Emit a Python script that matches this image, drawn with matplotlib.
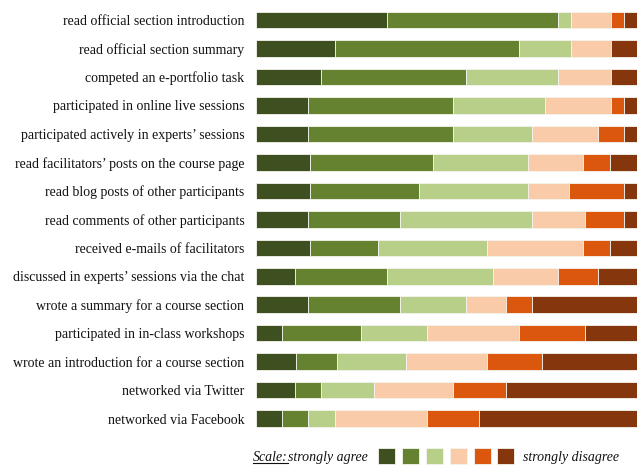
import numpy as np
import matplotlib.pyplot as plt
import matplotlib.patches as patches
from matplotlib.lines import Line2D

# activities, top to bottom
activities = [
    "read official section introduction",
    "read official section summary",
    "competed an e-portfolio task",
    "participated in online live sessions",
    "participated actively in experts\u2019 sessions",
    "read facilitators\u2019 posts on the course page",
    "read blog posts of other participants",
    "read comments of other participants",
    "received e-mails of facilitators",
    "discussed in experts\u2019 sessions via the chat",
    "wrote a summary for a course section",
    "participated in in-class workshops",
    "wrote an introduction for a course section",
    "networked via Twitter",
    "networked via Facebook",
]

# answer counts per scale step (strongly agree ... strongly disagree)
strongly_agree = [10, 6, 5, 4, 4, 4, 4, 4, 4, 3, 4, 2, 3, 3, 2]
agree = [13, 14, 11, 11, 11, 9, 8, 7, 5, 7, 7, 6, 3, 2, 2]
somewhat_agree = [1, 4, 7, 7, 6, 7, 8, 10, 8, 8, 5, 5, 5, 4, 2]
somewhat_disagree = [3, 3, 4, 5, 5, 4, 3, 4, 7, 5, 3, 7, 6, 6, 7]
disagree = [1, 0, 0, 1, 2, 2, 4, 3, 2, 3, 2, 5, 4, 4, 4]
strongly_disagree = [1, 2, 2, 1, 1, 2, 1, 1, 2, 3, 8, 4, 7, 10, 12]

colors = ['#3F5020', '#658230', '#B8CF8A', '#FACBA8', '#DC570E', '#86360C']

counts = np.array([strongly_agree, agree, somewhat_agree,
                   somewhat_disagree, disagree, strongly_disagree], dtype=float)
shares = counts / counts.sum(axis=0) * 100

plt.rcParams['font.family'] = 'Liberation Serif'

fig = plt.figure(figsize=(6.39, 4.68), dpi=100)
ax = fig.add_axes([0.400, 0.075, 0.5973, 0.9127])

y = np.arange(len(activities))
left = np.zeros(len(activities))
for i in range(len(colors)):
    ax.barh(y, shares[i], left=left, height=0.58, color=colors[i],
            edgecolor='#f4f4ee', linewidth=0.6)
    left += shares[i]

ax.set_xlim(0, 100)
ax.set_ylim(len(activities) - 0.5, -0.5)
ax.set_yticks(y)
ax.set_yticklabels(activities, fontsize=10, color='#111111')
ax.tick_params(axis='y', length=0, pad=8)
ax.set_xticks([])
for s in ax.spines.values():
    s.set_visible(False)

# scale legend along the bottom
ly = 1 - 457.5 / 468
t = fig.text(288 / 639, ly, "Scale:", fontsize=10, style='italic',
             va='center', ha='right', color='#111111')
fig.text(368 / 639, ly, "strongly agree", fontsize=10, style='italic',
         va='center', ha='right', color='#111111')
for i, c in enumerate(colors):
    x0 = (378.3 + i * 23.8) / 639
    fig.add_artist(patches.Rectangle((x0, 1 - 464 / 468), 17 / 639, 16 / 468,
                                     transform=fig.transFigure, facecolor=c,
                                     edgecolor='#f4f4ee', linewidth=0.6))
fig.text(523 / 639, ly, "strongly disagree", fontsize=10, style='italic',
         va='center', ha='left', color='#111111')

fig.canvas.draw()
bb = t.get_window_extent().transformed(fig.transFigure.inverted())
fig.add_artist(Line2D([bb.x0, bb.x1], [bb.y0 + 0.002, bb.y0 + 0.002],
                      transform=fig.transFigure, color='#111111', linewidth=0.8))

fig.savefig('out.png', dpi=100)
